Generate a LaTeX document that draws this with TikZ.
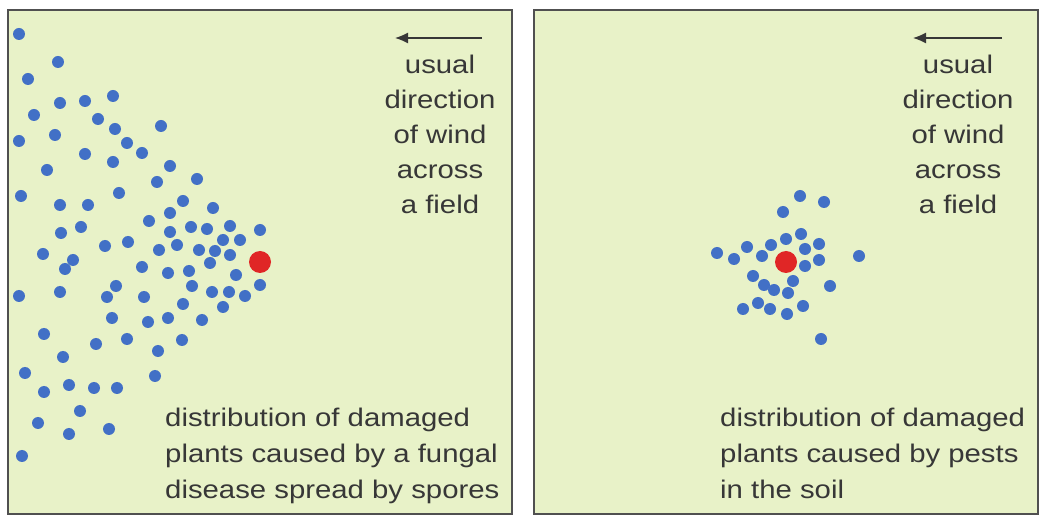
\documentclass[tikz,border=0pt]{standalone}
\usepackage{fontspec}
\newfontfamily\lblfont[FakeStretch=1.15]{Liberation Sans}
\usetikzlibrary{arrows.meta}
\definecolor{panelfill}{RGB}{232,242,200}
\definecolor{dotblue}{RGB}{66,112,198}
\definecolor{dotred}{RGB}{224,38,38}
\definecolor{txt}{RGB}{55,55,55}
\definecolor{frame}{RGB}{80,80,80}
\tikzset{
  panel/.style={draw=frame, line width=1.5pt, fill=panelfill},
  bdot/.style={circle, fill=dotblue, inner sep=0pt, minimum size=12pt},
  rdot/.style={circle, fill=dotred, inner sep=0pt, minimum size=22pt},
  lbl/.style={font=\lblfont\fontsize{25.5}{35.5}\selectfont, text=txt, inner sep=0pt},
  windarrow/.style={draw=txt, line width=1.3pt, -{Latex[length=13pt,width=11pt]}}
}
\begin{document}
\begin{tikzpicture}[x=1pt,y=-1pt]
\useasboundingbox (0,0) rectangle (1050,526);
% panels
\draw[panel] (8,10) rectangle (512,514);
\draw[panel] (534,10) rectangle (1038,514);
% left panel dots
\foreach \p [count=\i] in {(19,34),(58,62),(28,79),(60,103),(85,101),(113,96),(34,115),(98,119),(115,129),(161,126),(19,141),(55,135),(127,143),(142,153),(85,154),(113,162),(170,166),(47,170),(157,182),(197,179),(21,196),(119,193),(183,201),(60,205),(88,205),(213,208),(170,213),(149,221),(191,227),(207,229),(230,226),(260,230),(61,233),(81,227),(170,232),(223,240),(240,240),(105,246),(128,242),(159,250),(177,245),(199,250),(215,251),(230,255),(43,254),(73,260),(65,269),(142,267),(168,273),(189,271),(210,263),(236,275),(192,286),(116,286),(60,292),(107,297),(144,297),(212,292),(229,292),(245,296),(260,285),(19,296),(183,304),(223,307),(112,318),(148,322),(168,318),(202,320),(44,334),(96,344),(127,339),(182,340),(158,351),(63,357),(25,373),(155,376),(69,385),(94,388),(117,388),(44,392),(80,411),(38,423),(109,429),(69,434),(22,456)}
  \node[bdot] (L\i) at \p {};
\node[rdot] (Lsrc) at (260,262) {};
% right panel dots
\foreach \p [count=\i] in {(800,196),(824,202),(783,212),(786,239),(801,234),(771,245),(747,247),(717,253),(734,259),(762,256),(805,249),(819,244),(819,260),(859,256),(805,266),(753,276),(793,281),(830,286),(764,285),(774,290),(788,293),(758,303),(743,309),(770,309),(787,314),(803,306),(821,339)}
  \node[bdot] (R\i) at \p {};
\node[rdot] (Rsrc) at (786,262) {};
% wind arrows
\coordinate (LaS) at (482,38); \coordinate (LaE) at (395,38);
\draw[windarrow] (LaS) -- (LaE);
\coordinate (RaS) at (1002,38); \coordinate (RaE) at (913,38);
\draw[windarrow] (RaS) -- (RaE);
% wind labels
\node[lbl, anchor=base] (Lw1) at (440,74) {usual};
\node[lbl, anchor=base] (Lw2) at (440,109) {direction};
\node[lbl, anchor=base] (Lw3) at (440,144) {of wind};
\node[lbl, anchor=base] (Lw4) at (440,179) {across};
\node[lbl, anchor=base] (Lw5) at (440,214) {a field};
\node[lbl, anchor=base] (Rw1) at (958,74) {usual};
\node[lbl, anchor=base] (Rw2) at (958,109) {direction};
\node[lbl, anchor=base] (Rw3) at (958,144) {of wind};
\node[lbl, anchor=base] (Rw4) at (958,179) {across};
\node[lbl, anchor=base] (Rw5) at (958,214) {a field};
% captions
\node[lbl, anchor=base west] (Lc1) at (165,427) {distribution of damaged};
\node[lbl, anchor=base west] (Lc2) at (165,463) {plants caused by a fungal};
\node[lbl, anchor=base west] (Lc3) at (165,498) {disease spread by spores};
\node[lbl, anchor=base west] (Rc1) at (720,427) {distribution of damaged};
\node[lbl, anchor=base west] (Rc2) at (720,463) {plants caused by pests};
\node[lbl, anchor=base west] (Rc3) at (720,498) {in the soil};
\end{tikzpicture}
\end{document}
